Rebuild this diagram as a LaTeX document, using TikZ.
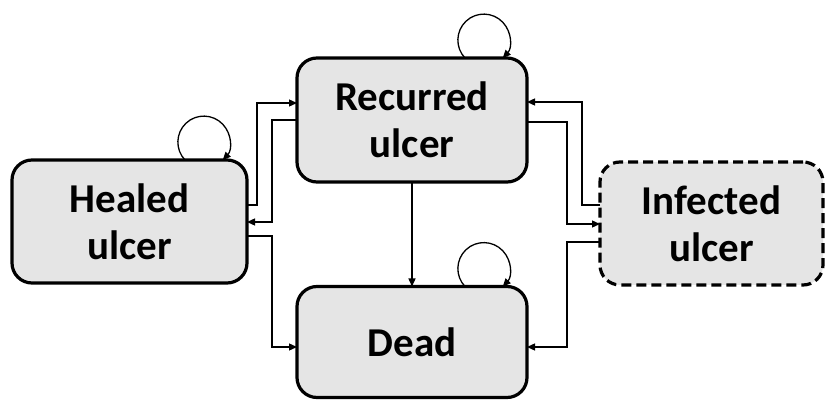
\documentclass[tikz,border=0pt]{standalone}
\usepackage{fontspec}
\setmainfont{Carlito}
\usetikzlibrary{arrows.meta}
\colorlet{StateFill}{black!10}
\newcommand{\LoopR}{26}
\newcommand{\LoopIn}{62}

\begin{document}
\begin{tikzpicture}[x=1pt, y=1pt,
	state/.style={draw, line width=3.2pt, rounded corners=20pt, fill=StateFill,
		align=center, font=\fontsize{41}{47}\selectfont\bfseries,
		inner sep=0pt, outer sep=0pt},
	flow/.style={line width=1.3pt, -{Triangle[length=8pt,width=7pt]}}]
	\useasboundingbox (0,0) rectangle (831,407);
	
	% states
	\node[state, minimum width=235pt, minimum height=123pt] (healed) at (129.5,185.5) {Healed\\ulcer};
	\node[state, minimum width=230pt, minimum height=124pt] (recurred) at (412,287) {Recurred\\ulcer};
	\node[state, minimum width=230pt, minimum height=111pt] (dead) at (412,65) {Dead};
	\node[state, dash pattern=on 10pt off 5pt, minimum width=223pt, minimum height=123pt] (infected) at (711.5,183.5) {Infected\\ulcer};
	
	% transitions on the left
	\draw[flow] (healed.east |- 0,202) -- (257,202) |- (recurred.west |- 0,304);
	\draw[flow] (recurred.west |- 0,287) -- (272,287) |- (healed.east |- 0,185);
	\draw[flow] (healed.east |- 0,171) -- (272,171) |- (dead.west |- 0,60);
	
	% transitions on the right
	\draw[flow] (infected.west |- 0,202) -- (582,202) |- (recurred.east |- 0,305);
	\draw[flow] (recurred.east |- 0,285) -- (567,285) |- (infected.west |- 0,183);
	\draw[flow] (infected.west |- 0,165) -- (567,165) |- (dead.east |- 0,60);
	
	\draw[flow] (recurred.south) -- (dead.north);
	
	% stay in the same state
	\foreach \s in {healed,recurred,dead}{
		\draw[flow] ([xshift=-\LoopIn pt]\s.north east)
		arc[start angle=223.5, end angle=-43.5, radius=\LoopR pt];
	}
\end{tikzpicture}
\end{document}
